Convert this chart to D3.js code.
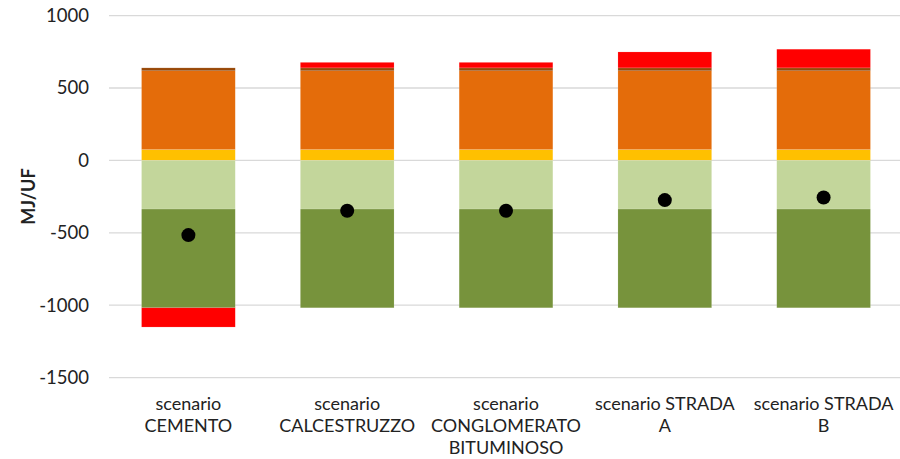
<!DOCTYPE html>
<html>
<head>
<meta charset="utf-8">
<script src="https://cdn.jsdelivr.net/npm/d3@7"></script>
<style>
  html, body { margin: 0; padding: 0; background: #fff; }
  svg { display: block; font-family: Lato, "Open Sans", sans-serif; }
</style>
</head>
<body>
<svg id="chart" width="900" height="459"></svg>
<script>
// Scenarios (x axis), each label split into its printed lines
const categories = ["CEMENTO", "CALCESTRUZZO", "CONGLOMERATO BITUMINOSO", "STRADA A", "STRADA B"];
const categoryLines = [
  ["scenario", "CEMENTO"],
  ["scenario", "CALCESTRUZZO"],
  ["scenario", "CONGLOMERATO", "BITUMINOSO"],
  ["scenario STRADA", "A"],
  ["scenario STRADA", "B"]
];

// Stacked contributions, MJ/UF (positive ones stack up, negative ones stack down)
const serie1 = [75, 75, 75, 75, 75];             // yellow
const serie2 = [-336, -336, -336, -336, -336];   // light green
const serie3 = [544, 544, 544, 544, 544];        // orange
const serie4 = [-682, -682, -682, -682, -682];   // dark green
const serie5 = [20, 20, 20, 20, 20];             // brown
const serie6 = [-133, 38, 38, 110, 129];         // red

// Net balance per scenario (black markers)
const netTotal = [-516, -348, -348, -274, -256];

const yTicks = [-1500, -1000, -500, 0, 500, 1000];

const seriesKeys = ["serie1", "serie2", "serie3", "serie4", "serie5", "serie6"];
const seriesColors = {
  serie1: "#FFC000",
  serie2: "#C3D69B",
  serie3: "#E46C0A",
  serie4: "#77933C",
  serie5: "#984807",
  serie6: "#FF0000"
};
const seriesValues = { serie1, serie2, serie3, serie4, serie5, serie6 };

const rows = categories.map((c, i) => {
  const r = { category: c };
  seriesKeys.forEach(k => { r[k] = seriesValues[k][i]; });
  return r;
});

const svg = d3.select("#chart");

const x = d3.scaleBand()
  .domain(categories)
  .range([109, 903])
  .paddingInner(0.41)
  .paddingOuter(0.205);

const y = d3.scaleLinear()
  .domain([-1500, 1000])
  .range([377.6, 15.6]);

// Horizontal gridlines
svg.append("g")
  .selectAll("line")
  .data(yTicks)
  .join("line")
  .attr("x1", 109)
  .attr("x2", 900)
  .attr("y1", d => y(d))
  .attr("y2", d => y(d))
  .attr("stroke", "#d9d9d9")
  .attr("stroke-width", 1.3);

// Y axis labels
const yAxis = svg.append("g")
  .attr("transform", "translate(96,0)")
  .call(d3.axisLeft(y).tickValues(yTicks).tickSize(0).tickPadding(7).tickFormat(d => String(d)));
yAxis.select(".domain").remove();
yAxis.selectAll("text")
  .attr("font-family", "Lato, 'Open Sans', sans-serif")
  .attr("font-size", 18.5)
  .attr("fill", "#222");

// Axis title
svg.append("text")
  .attr("transform", `translate(35,${y(-250)}) rotate(-90)`)
  .attr("text-anchor", "middle")
  .attr("font-size", 18)
  .attr("font-weight", "bold")
  .attr("fill", "#222")
  .text("MJ/UF");

// Stacked bars
const stack = d3.stack()
  .keys(seriesKeys)
  .offset(d3.stackOffsetDiverging);
const layers = stack(rows);

svg.append("g")
  .selectAll("g")
  .data(layers)
  .join("g")
  .attr("fill", d => seriesColors[d.key])
  .selectAll("rect")
  .data(d => d.filter(p => p[1] !== p[0]))
  .join("rect")
  .attr("x", d => x(d.data.category))
  .attr("width", x.bandwidth())
  .attr("y", d => y(Math.max(d[0], d[1])))
  .attr("height", d => Math.abs(y(d[0]) - y(d[1])))
  .attr("stroke", "#fff")
  .attr("stroke-opacity", 0.25)
  .attr("stroke-width", 0.5);

// Net markers
svg.append("g")
  .selectAll("circle")
  .data(netTotal)
  .join("circle")
  .attr("cx", (d, i) => x(categories[i]) + x.bandwidth() / 2)
  .attr("cy", d => y(d))
  .attr("r", 7)
  .attr("fill", "#000");

// Category labels
const xAxis = svg.append("g")
  .attr("transform", "translate(0,390)")
  .call(d3.axisBottom(x).tickSize(0).tickFormat(() => ""));
xAxis.select(".domain").remove();
xAxis.selectAll(".tick text").remove();
xAxis.selectAll(".tick")
  .append("text")
  .attr("text-anchor", "middle")
  .attr("font-family", "Lato, 'Open Sans', sans-serif")
  .attr("font-size", 18)
  .attr("fill", "#222")
  .selectAll("tspan")
  .data((d, i) => categoryLines[i])
  .join("tspan")
  .attr("x", 0)
  .attr("y", (d, j) => 14 + j * 22)
  .attr("dy", "0.35em")
  .text(d => d);
</script>
</body>
</html>
